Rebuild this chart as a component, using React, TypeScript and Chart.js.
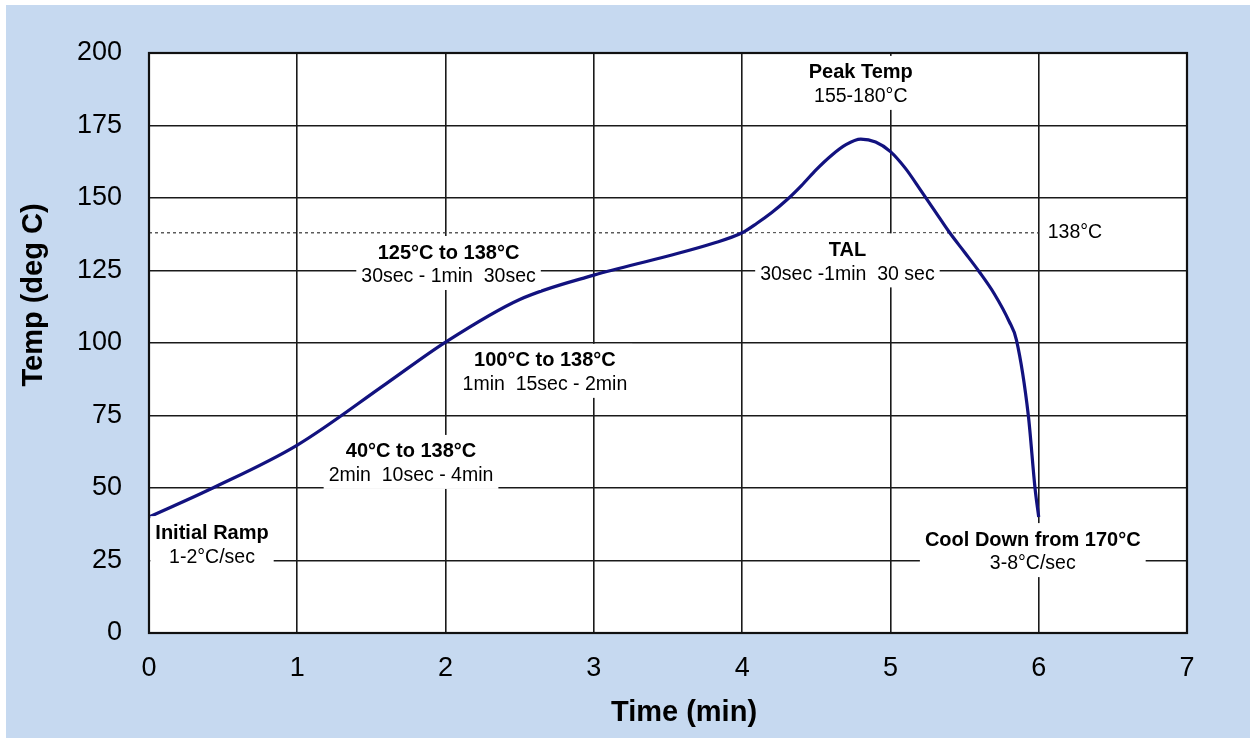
import React, { useEffect, useRef } from "react";
import { Chart, registerables } from "chart.js";

Chart.register(...registerables);

// ---- data ----
const timeMin = [0, 0.43, 1, 1.6, 2, 2.5, 3, 3.5, 3.8, 4.0, 4.1, 4.2, 4.3, 4.4, 4.5, 4.6, 4.7, 4.8, 4.9, 5.0, 5.1, 5.2, 5.3, 5.4, 5.5, 5.6, 5.7, 5.8, 5.85, 5.93, 5.975, 6.0];
const tempC = [40, 50, 64.8, 86, 100.3, 115, 123.4, 130, 134.3, 138, 141.3, 145, 149.3, 154.3, 159.8, 164.6, 168.4, 170.3, 169.3, 166, 160.3, 153, 145.5, 138, 131.3, 124.5, 117, 107.5, 101, 75, 50, 40];

const talTime = [0, 6];
const talTemp = [138, 138];
const talLabel = "138°C";

const xTickValues = [0, 1, 2, 3, 4, 5, 6, 7];
const yTickValues = [0, 25, 50, 75, 100, 125, 150, 175, 200];

const xTitle = "Time (min)";
const yTitle = "Temp (deg C)";

const noteTitles = ["Initial Ramp", "40°C to 138°C", "125°C to 138°C", "100°C to 138°C", "Peak Temp", "TAL", "Cool Down from 170°C"];
const noteLines = ["1-2°C/sec", "2min  10sec - 4min", "30sec - 1min  30sec", "1min  15sec - 2min", "155-180°C", "30sec -1min  30 sec", "3-8°C/sec"];
const noteTime = [0.425, 1.767, 2.02, 2.67, 4.8, 4.71, 5.96];
const noteTemp = [30.3, 58.3, 126.9, 89.7, 189, 127.8, 27.9];

const FONT = '"Liberation Sans", Arial, sans-serif';

export default function App() {
  const ref = useRef<HTMLCanvasElement | null>(null);

  useEffect(() => {
    const canvas = ref.current;
    if (!canvas) return;

    const decor = {
      id: "decor",
      beforeDraw(chart: any) {
        const { ctx, chartArea: a } = chart;
        ctx.save();
        ctx.fillStyle = "#ffffff";
        ctx.fillRect(0, 0, chart.width, chart.height);
        ctx.fillStyle = "#c6d9f0";
        ctx.fillRect(6, 5, chart.width - 6, chart.height - 5);
        ctx.fillStyle = "#ffffff";
        ctx.fillRect(a.left, a.top, a.right - a.left, a.bottom - a.top);
        ctx.restore();
      },
      afterDraw(chart: any) {
        const { ctx, chartArea: a } = chart;
        const xs = chart.scales.x;
        const ys = chart.scales.y;
        ctx.save();
        // border
        ctx.strokeStyle = "#111";
        ctx.lineWidth = 2.2;
        ctx.strokeRect(a.left, a.top, a.right - a.left, a.bottom - a.top);

        // axis titles
        ctx.fillStyle = "#000";
        ctx.font = `bold 29px ${FONT}`;
        ctx.textAlign = "center";
        ctx.textBaseline = "middle";
        ctx.fillText(xTitle, a.left + 535, a.bottom + 80);
        ctx.save();
        ctx.translate(a.left - 115, a.top + 242);
        ctx.rotate(-Math.PI / 2);
        ctx.fillText(yTitle, 0, 0);
        ctx.restore();

        // notes
        for (let i = 0; i < noteTitles.length; i++) {
          const cx = xs.getPixelForValue(noteTime[i]);
          const cy = ys.getPixelForValue(noteTemp[i]);
          ctx.font = `bold 20px ${FONT}`;
          const w1 = ctx.measureText(noteTitles[i]).width;
          ctx.font = `19.5px ${FONT}`;
          const w2 = ctx.measureText(noteLines[i]).width;
          const w = Math.max(w1, w2) + 10;
          const top = cy - 12 - 17;
          const bottom = cy + 12 + 13;
          ctx.fillStyle = "#ffffff";
          ctx.fillRect(cx - w / 2, top, w, bottom - top);
          ctx.fillStyle = "#000";
          ctx.font = `bold 20px ${FONT}`;
          ctx.fillText(noteTitles[i], cx, cy - 12);
          ctx.font = `19.5px ${FONT}`;
          ctx.fillText(noteLines[i], cx, cy + 12);
        }

        // 138 label
        ctx.font = `19.5px ${FONT}`;
        ctx.textAlign = "left";
        ctx.fillText(talLabel, xs.getPixelForValue(talTime[1]) + 9, ys.getPixelForValue(talTemp[1]));
        ctx.restore();
      },
    };

    const chart = new Chart(canvas, {
      type: "scatter",
      data: {
        datasets: [
          {
            data: talTime.map((t, i) => ({ x: t, y: talTemp[i] })),
            showLine: true,
            borderColor: "#333",
            borderWidth: 1.2,
            borderDash: [3, 3],
            pointRadius: 0,
            order: 2,
          },
          {
            data: timeMin.map((t, i) => ({ x: t, y: tempC[i] })),
            showLine: true,
            borderColor: "#12127f",
            borderWidth: 3.2,
            pointRadius: 0,
            cubicInterpolationMode: "monotone",
            order: 1,
          },
        ],
      },
      options: {
        animation: false,
        responsive: false,
        devicePixelRatio: 1,
        layout: { padding: { left: 49, top: 53, right: 63, bottom: 45 } },
        plugins: { legend: { display: false }, tooltip: { enabled: false } },
        scales: {
          x: {
            type: "linear",
            min: 0,
            max: 7,
            afterFit: (s: any) => {
              s.height = 60;
            },
            afterBuildTicks: (s: any) => {
              s.ticks = xTickValues.map((v) => ({ value: v }));
            },
            ticks: { color: "#000", font: { family: FONT, size: 27 }, padding: 19 },
            grid: { color: "#1a1a1a", lineWidth: 1.6, drawTicks: false },
            border: { display: false },
          },
          y: {
            type: "linear",
            min: 0,
            max: 200,
            afterFit: (s: any) => {
              s.width = 100;
            },
            afterBuildTicks: (s: any) => {
              s.ticks = yTickValues.map((v) => ({ value: v }));
            },
            ticks: { color: "#000", font: { family: FONT, size: 27 }, padding: 27 },
            grid: { color: "#1a1a1a", lineWidth: 1.6, drawTicks: false },
            border: { display: false },
          },
        },
      },
      plugins: [decor],
    });

    return () => chart.destroy();
  }, []);

  return (
    <div style={{ position: "absolute", left: 0, top: 0, width: 1250, height: 738 }}>
      <canvas ref={ref} width={1250} height={738} style={{ width: 1250, height: 738, display: "block" }} />
    </div>
  );
}
